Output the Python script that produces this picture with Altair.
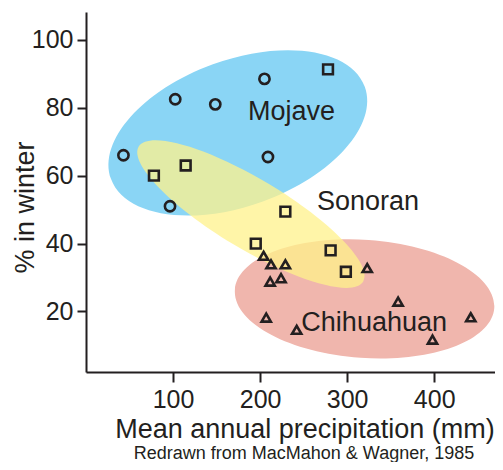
import altair as alt
import pandas as pd

# ---------------- data ----------------
mojave_x = [43, 102.5, 148.5, 96.5, 205, 209]
mojave_y = [66, 82.5, 81, 51, 88.5, 65.5]

sonoran_x = [78, 114.5, 278, 229, 195, 281, 298.5]
sonoran_y = [60, 63, 91.3, 49.4, 40, 38, 31.7]

chihuahuan_x = [204, 212.5, 229, 211.5, 224, 323, 358.5, 207, 242, 398, 442]
chihuahuan_y = [36.4, 33.9, 33.9, 28.8, 29.8, 32.8, 22.9, 18.2, 14.6, 11.7, 18.3]

deserts = ["Mojave", "Sonoran", "Chihuahuan"]
# label anchor (data units)
label_x = [236, 324, 331]
label_y = [76.4, 49.9, 14.25]
# region (ellipse) centres (data units)
region_cx = [174.5, 189.5, 320]
region_cy = [72.6, 48.7, 23.7]

x_ticks = [100, 200, 300, 400]
y_ticks = [20, 40, 60, 80, 100]
source_text = "Redrawn from MacMahon & Wagner, 1985"

# ---------------- styles ----------------
INK = "#231f20"
FONT = "Liberation Sans"
region_style = {
    "Mojave":     {"color": "#8ad5f5", "opacity": 1.0,  "semi": 135, "aspect": 73 / 135, "angle": 340},
    "Chihuahuan": {"color": "#f0b6ad", "opacity": 1.0,  "semi": 130, "aspect": 59 / 130, "angle": 4},
    "Sonoran":    {"color": "#fff28b", "opacity": 0.75, "semi": 131, "aspect": 35 / 131, "angle": 31},
}


def ellipse_path(r):
    k = 0.5523
    return (f"M-1,0C-1,{-k*r:.4f} {-k},{-r:.4f} 0,{-r:.4f}"
            f"C{k},{-r:.4f} 1,{-k*r:.4f} 1,0"
            f"C1,{k*r:.4f} {k},{r:.4f} 0,{r:.4f}"
            f"C{-k},{r:.4f} -1,{k*r:.4f} -1,0Z")


pts = pd.DataFrame({
    "x": mojave_x + sonoran_x + chihuahuan_x,
    "y": mojave_y + sonoran_y + chihuahuan_y,
    "desert": ["Mojave"] * len(mojave_x) + ["Sonoran"] * len(sonoran_x)
              + ["Chihuahuan"] * len(chihuahuan_x),
})
regions = pd.DataFrame({"desert": deserts, "cx": region_cx, "cy": region_cy})
labels = pd.DataFrame({"desert": deserts, "lx": label_x, "ly": label_y})

xscale = alt.Scale(domain=[0, 469.8], nice=False, zero=False)
yscale = alt.Scale(domain=[2.18, 108.2], nice=False, zero=False)

layers = []
for name in ["Mojave", "Chihuahuan", "Sonoran"]:
    st = region_style[name]
    layers.append(
        alt.Chart(regions).transform_filter(alt.datum.desert == name)
        .mark_point(shape=ellipse_path(st["aspect"]), filled=True,
                    fill=st["color"], fillOpacity=st["opacity"], opacity=1,
                    strokeWidth=0, size=(2 * st["semi"]) ** 2, angle=st["angle"])
        .encode(x=alt.X("cx:Q", scale=xscale), y=alt.Y("cy:Q", scale=yscale))
    )

points = alt.Chart(pts).mark_point(filled=False, stroke=INK, strokeWidth=2.6, opacity=1).encode(
    x=alt.X("x:Q", scale=xscale,
            axis=alt.Axis(values=x_ticks, title="Mean annual precipitation (mm)",
                          titleX=218.5, titleY=65, titleBaseline="alphabetic",
                          titleAlign="center", tickSize=10, labelPadding=5)),
    y=alt.Y("y:Q", scale=yscale,
            axis=alt.Axis(values=y_ticks, title="% in winter", titleAngle=270,
                          titleX=-53, titleY=195, titleBaseline="alphabetic",
                          titleAlign="center", tickSize=9, labelPadding=4)),
    shape=alt.Shape("desert:N", scale=alt.Scale(domain=deserts,
                    range=["circle", "square", "triangle-up"]), legend=None),
    size=alt.Size("desert:N", scale=alt.Scale(domain=deserts, range=[105, 85, 175]),
                  legend=None),
)

texts = alt.Chart(labels).mark_text(font=FONT, fontSize=27, color=INK,
                                    baseline="alphabetic", align="center").encode(
    x=alt.X("lx:Q", scale=xscale), y=alt.Y("ly:Q", scale=yscale), text="desert:N")

source = alt.Chart(pd.DataFrame({"t": [source_text]})).mark_text(
    font=FONT, fontSize=18, color=INK, baseline="alphabetic", align="center").encode(
    x=alt.value(218), y=alt.value(446.5), text="t:N")

chart = alt.layer(*layers, points, texts, source).properties(
    width=409, height=360,
    autosize=alt.AutoSizeParams(type="none"),
    padding={"left": 78, "top": 4, "right": 0, "bottom": 90},
).configure_view(stroke=None).configure_axis(
    grid=False, domainColor=INK, domainWidth=2, tickColor=INK, tickWidth=2,
    labelFont=FONT, labelFontSize=25, labelColor=INK,
    titleFont=FONT, titleFontSize=27, titleColor=INK, titleFontWeight="normal",
    labelFlush=False,
)

chart.save("out.html", embed_options={"renderer": "svg", "actions": False})
